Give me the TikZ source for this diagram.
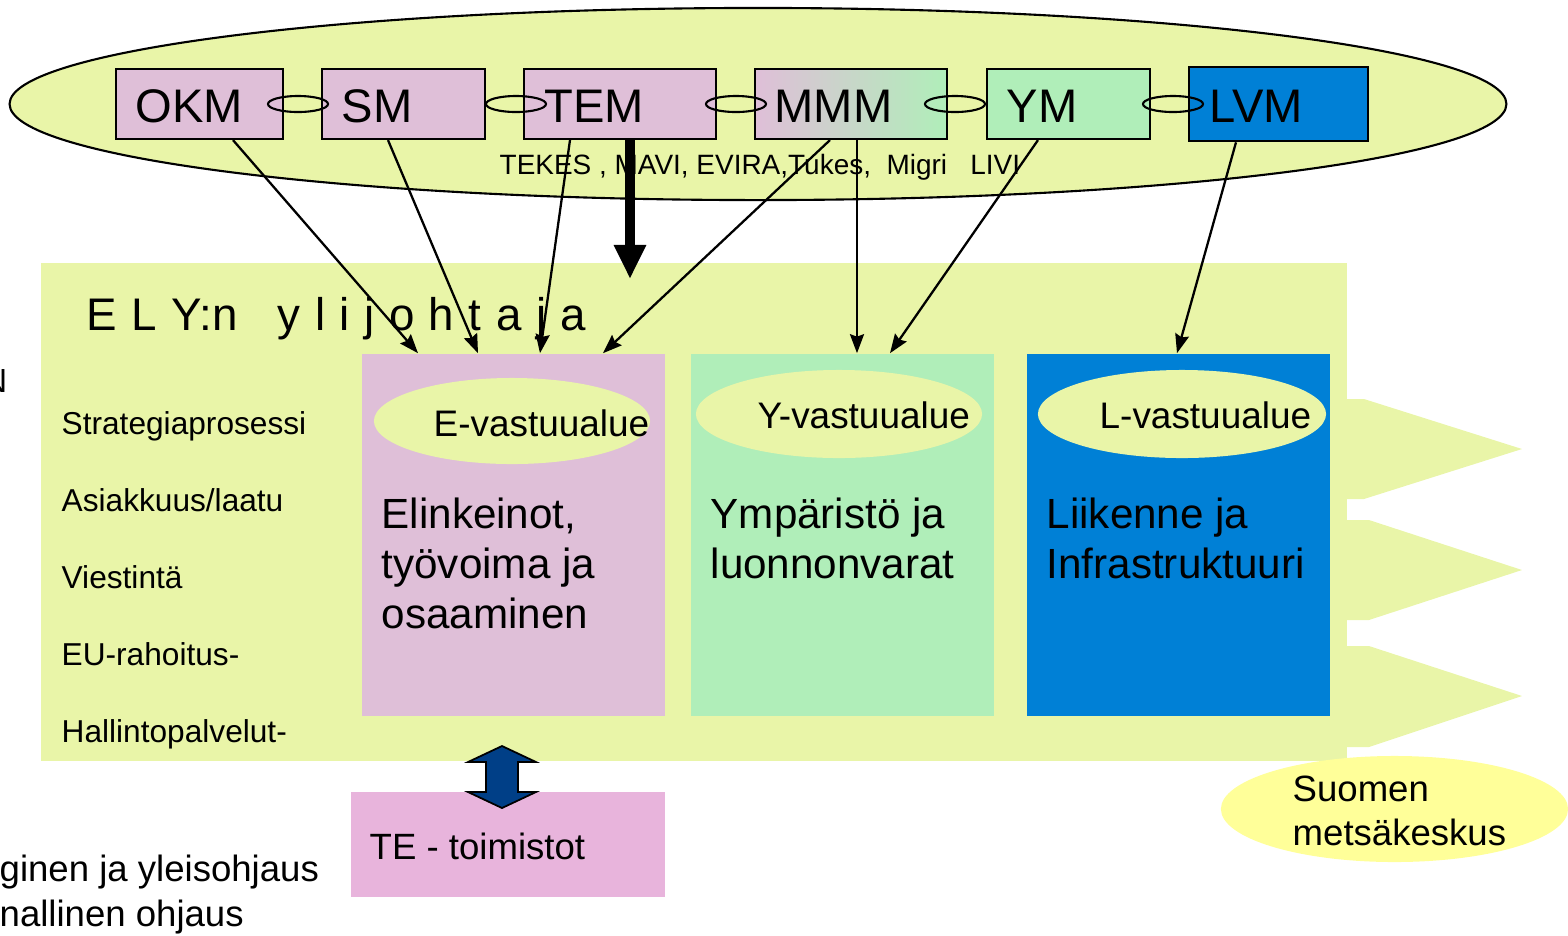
\documentclass[tikz,border=0pt]{standalone}
\usepackage{fontspec}
\setmainfont{Liberation Sans}
\usetikzlibrary{arrows.meta,shapes.geometric}
\definecolor{ylw}{HTML}{E9F5A8}
\definecolor{lil}{HTML}{DFBFD8}
\definecolor{grn}{HTML}{B0EEB9}
\definecolor{blu}{HTML}{0080D6}
\definecolor{pnk}{HTML}{E8B4DC}
\definecolor{pyl}{HTML}{FFFF99}
\definecolor{dblu}{HTML}{003F87}
\newdimen\px \px=0.01cm
\tikzset{
  mbox/.style={draw=black, line width=0.6pt, inner sep=0pt, minimum height=0.70cm},
  btxt/.style={anchor=base west, inner sep=0pt, font=\fontsize{13.4}{16}\selectfont},
  link/.style={draw=black, line width=0.6pt, ellipse, minimum width=0.60cm, minimum height=0.16cm, inner sep=0pt},
  conn/.style={-{Stealth[length=0.19cm,width=0.14cm,inset=0.025cm]}, line width=0.65pt},
  blk/.style={minimum width=3.03cm, minimum height=3.62cm, inner sep=0pt},
  vell/.style={ellipse, fill=ylw, inner sep=0pt},
  vtxt/.style={anchor=base west, inner sep=0pt, font=\fontsize{10.5}{12}\selectfont},
  ttxt/.style={anchor=base west, inner sep=0pt, align=left, font=\fontsize{12}{14.2}\selectfont},
  lbl/.style={anchor=base west, inner sep=0pt, font=\fontsize{9}{11}\selectfont},
  big/.style={anchor=base west, inner sep=0pt, font=\fontsize{10.4}{12.5}\selectfont},
}
\begin{document}
\begin{tikzpicture}[x=0.01cm,y=-0.01cm]
\useasboundingbox (0,0) rectangle (1568,935);

% big ellipse with ministries
\node[ellipse, draw=black, line width=0.6pt, fill=ylw, minimum width=14.96cm, minimum height=1.92cm, inner sep=0pt] (ell) at (758,104) {};
\node[mbox, fill=lil, minimum width=1.67cm] (okm) at (199.5,104) {};
\node[mbox, fill=lil, minimum width=1.63cm] (sm) at (403.5,104) {};
\node[mbox, fill=lil, minimum width=1.92cm] (tem) at (620,104) {};
\node[mbox, left color=lil, right color=grn, minimum width=1.92cm] (mmm) at (851,104) {};
\node[mbox, fill=grn, minimum width=1.63cm] (ym) at (1068.5,104) {};
\node[mbox, fill=blu, line width=0.75pt, minimum width=1.79cm, minimum height=0.74cm] (lvm) at (1278.5,104) {};

\node[btxt] (okmt) at (135,122) {OKM};
\node[btxt] (smt) at (341,122) {SM};
\node[btxt] (temt) at (544,122) {TEM};
\node[btxt] (mmmt) at (774,122) {MMM};
\node[btxt] (ymt) at (1006,122) {YM};
\node[btxt] (lvmt) at (1209,122) {LVM};

\node[link] (l1) at (298,104) {};
\node[link] (l2) at (516,104) {};
\node[link] (l3) at (736,104) {};
\node[link] (l4) at (955,104) {};
\node[link] (l5) at (1173,104) {};

\node[anchor=base west, inner sep=0pt, font=\fontsize{7.95}{9.5}\selectfont] (agencies) at (499,174) {TEKES , MAVI, EVIRA,Tukes,\ \ Migri\ \ \ LIVI};

% ELY box
\node[fill=ylw, minimum width=13.06cm, minimum height=4.98cm, inner sep=0pt] (ely) at (694,512) {};
\fill[ylw] (1346,399) -- (1364,399) -- (1522,449) -- (1364,499) -- (1346,499) -- cycle;
\fill[ylw] (1346,520) -- (1369,520) -- (1522,570) -- (1369,620) -- (1346,620) -- cycle;
\fill[ylw] (1346,646) -- (1369,646) -- (1522,696) -- (1369,747) -- (1346,747) -- cycle;

\node[anchor=base west, inner sep=0pt, font=\fontsize{13}{15.6}\selectfont] (elyt) at (86,330) {\spaceskip=0.145cm E L Y:n\hspace{0.40cm}y l i j o h t a j a};

\node[lbl] (s1) at (61,434) {Strategiaprosessi};
\node[lbl] (s2) at (61,511) {Asiakkuus/laatu};
\node[lbl] (s3) at (61,588) {Viestintä};
\node[lbl] (s4) at (61,665) {EU-rahoitus-};
\node[lbl] (s5) at (61,742) {Hallintopalvelut-};

% responsibility areas
\node[blk, fill=lil] (eb) at (513.5,535) {};
\node[blk, fill=grn] (yb) at (842.5,535) {};
\node[blk, fill=blu] (lb) at (1178.5,535) {};

\node[vell, minimum width=2.76cm, minimum height=0.86cm] (ee) at (512,421) {};
\node[vell, minimum width=2.86cm, minimum height=0.88cm] (ye) at (839,414) {};
\node[vell, minimum width=2.88cm, minimum height=0.88cm] (le) at (1182,414) {};
\node[vtxt] (eet) at (433,436) {E-vastuualue};
\node[vtxt] (yet) at (757,428) {Y-vastuualue};
\node[vtxt] (let) at (1099,428) {L-vastuualue};

\node[ttxt] (ebt) at (381,628) {Elinkeinot,\\työvoima ja\\osaaminen};
\node[ttxt] (ybt) at (710,578) {Ympäristö ja\\luonnonvarat};
\node[ttxt] (lbt) at (1046,578) {Liikenne ja\\Infrastruktuuri};

% TE-toimistot
\node[fill=pnk, minimum width=3.14cm, minimum height=1.05cm, inner sep=0pt] (te) at (508,844.5) {};
\node[big] (tet) at (369,859) {TE - toimistot};
\filldraw[fill=dblu, draw=black, line width=0.5pt] (502,746) -- (536,762) -- (518,762) -- (518,792) -- (536,792) -- (502,808) -- (468,792) -- (486,792) -- (486,762) -- (468,762) -- cycle;

% Suomen metsakeskus
\node[ellipse, fill=pyl, minimum width=3.47cm, minimum height=1.06cm, inner sep=0pt] (smk) at (1394.5,809) {};
\node[big] (smkt1) at (1292,801) {Suomen};
\node[big] (smkt2) at (1292,845) {metsäkeskus};

% cut-off texts at the left edge
\node[anchor=base east, inner sep=0pt, font=\fontsize{9.5}{11}\selectfont] (nn) at (8,392) {N};
\node[big] (bl1) at (-1,881) {ginen ja yleisohjaus};
\node[big] (bl2) at (-1,926) {nallinen ohjaus};

% connectors
\coordinate (thk) at (630,279);
\draw[line width=0.1cm, -{Triangle[length=0.34cm,width=0.30cm]}] ([xshift=10\px]tem.south) -- (thk);
\draw[conn] ([xshift=33.5\px]okm.south) -- ([xshift=-95.5\px]eb.north);
\draw[conn] ([xshift=-15.5\px]sm.south) -- ([xshift=-35.5\px]eb.north);
\draw[conn] ([xshift=-50\px]tem.south) -- ([xshift=26.5\px]eb.north);
\draw[conn] ([xshift=-21\px]mmm.south) -- ([xshift=89.5\px]eb.north);
\draw[conn] ([xshift=6\px]mmm.south) -- ([xshift=14.5\px]yb.north);
\draw[conn] ([xshift=-30.5\px]ym.south) -- ([xshift=47.5\px]yb.north);
\draw[conn] ([xshift=-42.5\px]lvm.south) -- ([xshift=-1.5\px]lb.north);
\end{tikzpicture}
\end{document}
